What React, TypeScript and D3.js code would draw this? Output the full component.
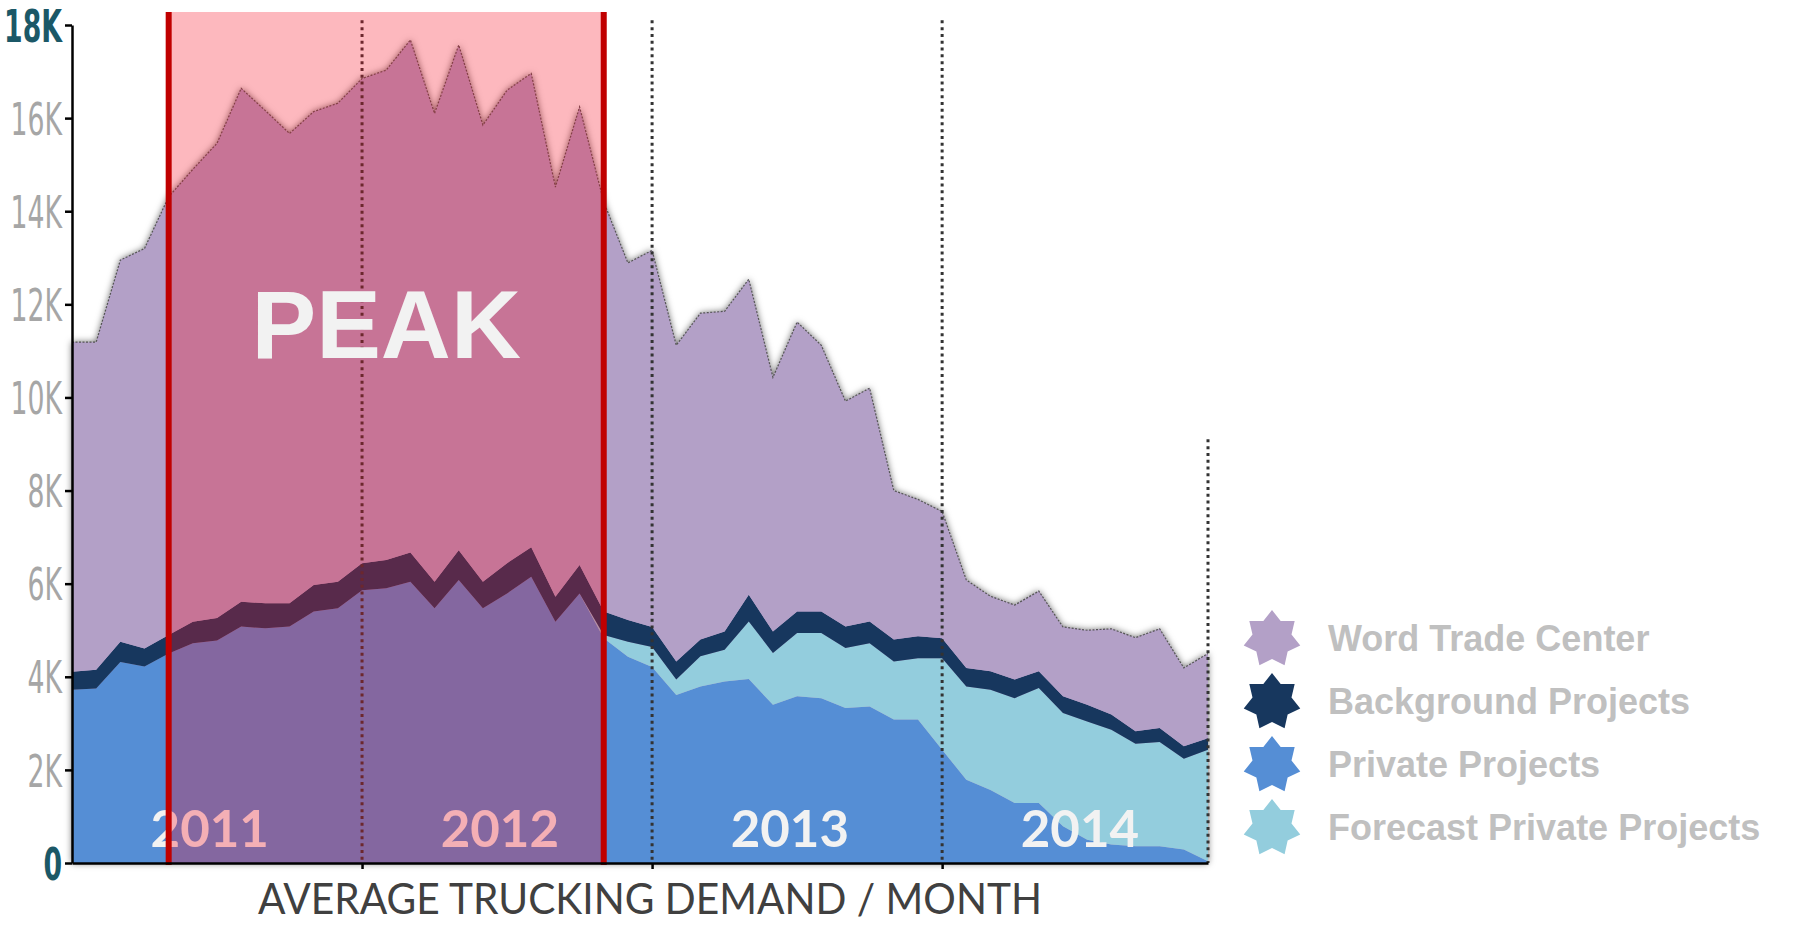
import React, { useEffect, useRef } from 'react';
import * as d3 from 'd3';

const years = ['2011', '2012', '2013', '2014'];
const monthNames = ['Jan', 'Feb', 'Mar', 'Apr', 'May', 'Jun', 'Jul', 'Aug', 'Sep', 'Oct', 'Nov', 'Dec'];
const months = years.flatMap((y) => monthNames.map((m) => `${m} ${y}`));

// trucks / month
const privateProjects = [
  3720, 3750, 4320, 4220, 4500, 4720, 4780, 5080, 5040, 5080, 5400, 5470,
  5860, 5900, 6040, 5470, 6080, 5470, 5790, 6150, 5180, 5790, 4830, 4430,
  4210, 3610, 3790, 3900, 3950, 3400, 3580, 3540, 3330, 3360, 3080, 3080,
  2430, 1790, 1570, 1290, 1290, 790, 500, 400, 360, 360, 290, 40,
];
const forecastPrivate = [
  0, 0, 0, 0, 0, 0, 0, 0, 0, 0, 0, 0,
  0, 0, 0, 0, 0, 0, 0, 0, 0, 0, 70, 320,
  430, 330, 650, 680, 1240, 1110, 1360, 1400, 1290, 1360, 1250, 1320,
  1970, 2000, 2150, 2250, 2470, 2430, 2540, 2460, 2200, 2240, 1950, 2390,
];
const backgroundProjects = [
  390, 400, 430, 390, 400, 460, 480, 530, 540, 500, 570, 570,
  580, 610, 630, 570, 640, 570, 650, 630, 540, 610, 500, 470,
  430, 390, 360, 390, 570, 460, 460, 460, 460, 470, 470, 470,
  430, 400, 400, 400, 360, 360, 360, 330, 270, 300, 270, 250,
];
const worldTradeCenter = [
  7080, 7040, 8200, 8590, 9410, 9720, 10200, 11030, 10580, 10090, 10170, 10280,
  10410, 10520, 11010, 10060, 10850, 9810, 10160, 10180, 8800, 9840, 8800, 7670,
  8090, 6790, 7010, 6880, 6780, 5460, 6220, 5720, 4840, 5010, 3200, 2940,
  2720, 1890, 1610, 1600, 1720, 1490, 1600, 1840, 2010, 2130, 1680, 1820,
];

const yTicks = [0, 2000, 4000, 6000, 8000, 10000, 12000, 14000, 16000, 18000];
const yearStarts = ['Jan 2012', 'Jan 2013', 'Jan 2014'];
const guideMonths = ['Jan 2012', 'Jan 2013', 'Jan 2014', 'Dec 2014'];
const guideTops = [18100, 18100, 18100, 9100];
const peakRange = ['May 2011', 'Nov 2012'];

const keys = ['private', 'forecast', 'background', 'wtc'];
const colors: Record<string, string> = {
  wtc: '#b3a0c7',
  background: '#17375e',
  private: '#558ed5',
  forecast: '#93cddd',
};
const legend = [
  { key: 'wtc', label: 'Word Trade Center' },
  { key: 'background', label: 'Background Projects' },
  { key: 'private', label: 'Private Projects' },
  { key: 'forecast', label: 'Forecast Private Projects' },
];

const App = () => {
  const svgRef = useRef<SVGSVGElement>(null);

  useEffect(() => {
    const svg = d3.select(svgRef.current);
    svg.selectAll('*').remove();

    const x = d3.scalePoint<string>().domain(months).range([72, 1208]);
    const y = d3.scaleLinear().domain([0, 18000]).range([863, 25]);

    const table = months.map((m, i) => ({
      month: m,
      private: privateProjects[i],
      forecast: forecastPrivate[i],
      background: backgroundProjects[i],
      wtc: worldTradeCenter[i],
    }));
    const series = d3.stack<any>().keys(keys)(table);

    const defs = svg.append('defs');
    const f = defs
      .append('filter')
      .attr('id', 'shadow')
      .attr('x', '-5%')
      .attr('y', '-10%')
      .attr('width', '110%')
      .attr('height', '120%');
    f.append('feDropShadow')
      .attr('dx', 0)
      .attr('dy', 0)
      .attr('stdDeviation', 3.5)
      .attr('flood-color', '#000')
      .attr('flood-opacity', 0.6);

    const area = d3
      .area<any>()
      .x((d) => x(d.data.month) as number)
      .y0((d) => y(d[0]))
      .y1((d) => y(d[1]));

    // shadowed silhouette first so the glow only shows outside the stack
    const top = series[series.length - 1];
    svg
      .append('path')
      .datum(top)
      .attr('d', d3.area<any>().x((d) => x(d.data.month) as number).y0(y(0)).y1((d) => y(d[1])))
      .attr('fill', colors.wtc)
      .attr('filter', 'url(#shadow)');

    svg
      .append('g')
      .selectAll('path')
      .data(series)
      .join('path')
      .attr('d', area)
      .attr('fill', (d) => colors[d.key]);

    svg
      .append('path')
      .datum(top)
      .attr('d', d3.line<any>().x((d) => x(d.data.month) as number).y((d) => y(d[1])))
      .attr('fill', 'none')
      .attr('stroke', '#555')
      .attr('stroke-width', 1.2)
      .attr('stroke-dasharray', '2 1.5');

    // year labels
    svg
      .append('g')
      .selectAll('text')
      .data(years)
      .join('text')
      .attr('x', (d, i) => x(months[i * 12])! + 5.7 * x.step())
      .attr('y', 847)
      .attr('text-anchor', 'middle')
      .attr('font-family', 'Lato, "Open Sans", sans-serif')
      .attr('font-weight', 700)
      .attr('font-size', 51)
      .attr('fill', '#f2f2f2')
      .text((d) => d);

    // dotted year guides
    svg
      .append('g')
      .selectAll('line')
      .data(guideMonths)
      .join('line')
      .attr('x1', (d) => x(d)!)
      .attr('x2', (d) => x(d)!)
      .attr('y1', (d, i) => y(guideTops[i]))
      .attr('y2', y(0))
      .attr('stroke', '#333')
      .attr('stroke-width', 3)
      .attr('stroke-dasharray', '3 3.8');

    // peak highlight
    const px0 = x(peakRange[0])!;
    const px1 = x(peakRange[1])!;
    svg
      .append('rect')
      .attr('x', px0)
      .attr('y', 12)
      .attr('width', px1 - px0)
      .attr('height', y(0) + 1 - 12)
      .attr('fill', 'rgba(248, 10, 31, 0.29)');
    svg
      .append('g')
      .selectAll('line')
      .data([px0, px1])
      .join('line')
      .attr('x1', (d) => d)
      .attr('x2', (d) => d)
      .attr('y1', 12)
      .attr('y2', y(0) + 2)
      .attr('stroke', '#c00000')
      .attr('stroke-width', 6);

    // axes
    const yAxis = d3
      .axisLeft(y)
      .tickValues(yTicks)
      .tickSize(7)
      .tickSizeOuter(0)
      .tickFormat((v) => (v === 0 ? '0' : `${+v / 1000}K`));
    const gy = svg.append('g').attr('transform', 'translate(72,0)').call(yAxis);
    gy.select('.domain').attr('stroke', '#000').attr('stroke-width', 2.5);
    gy.selectAll('.tick line').attr('stroke', '#000').attr('stroke-width', 2.5);
    gy.selectAll('.tick text')
      .attr('x', 0)
      .attr('dy', '0.36em')
      .attr('transform', 'translate(-10,0) scale(0.66,1)')
      .attr('font-family', '"Liberation Sans Narrow", "DejaVu Sans Condensed", sans-serif')
      .attr('font-size', 45)
      .attr('fill', (v: any) => (v === 0 || v === 18000 ? '#1b5867' : '#a6a6a6'))
      .attr('font-weight', (v: any) => (v === 0 || v === 18000 ? 700 : 400));

    const xAxis = d3
      .axisBottom(x)
      .tickValues(yearStarts)
      .tickSize(6)
      .tickSizeOuter(0)
      .tickFormat(() => '');
    const gx = svg.append('g').attr('transform', `translate(0,${y(0)})`).call(xAxis);
    gx.select('.domain').attr('stroke', '#000').attr('stroke-width', 2.5);
    gx.selectAll('.tick line').attr('stroke', '#000').attr('stroke-width', 2.5);

    svg
      .append('text')
      .attr('x', (px0 + px1) / 2)
      .attr('y', 358)
      .attr('text-anchor', 'middle')
      .attr('font-family', '"Liberation Sans", Arial, sans-serif')
      .attr('font-weight', 700)
      .attr('font-size', 97)
      .attr('fill', '#f2f2f2')
      .text('PEAK');

    svg
      .append('text')
      .attr('x', 650)
      .attr('y', 914)
      .attr('text-anchor', 'middle')
      .attr('font-family', 'Lato, "Open Sans", sans-serif')
      .attr('font-size', 43)
      .attr('fill', '#404040')
      .attr('textLength', 784)
      .attr('lengthAdjust', 'spacingAndGlyphs')
      .text('AVERAGE TRUCKING DEMAND / MONTH');

    // legend with 7-point stars
    const starPts = d3.range(14).map((i) => [(i * Math.PI) / 7, i % 2 === 0 ? 29 : 20]);
    const star = d3.lineRadial().curve(d3.curveLinearClosed)(starPts as [number, number][]);
    const lg = svg
      .append('g')
      .selectAll('g')
      .data(legend)
      .join('g')
      .attr('transform', (d, i) => `translate(1272,${639 + i * 63})`);
    lg.append('path').attr('d', star).attr('fill', (d) => colors[d.key]);
    lg.append('text')
      .attr('x', 56)
      .attr('y', 12)
      .attr('font-family', '"Liberation Sans", Arial, sans-serif')
      .attr('font-weight', 700)
      .attr('font-size', 36)
      .attr('fill', '#c0c0c0')
      .text((d) => d.label);
  }, []);

  return (
    <svg
      ref={svgRef}
      width={1795}
      height={925}
      style={{ position: 'absolute', left: 0, top: 0, display: 'block', background: '#fff' }}
    />
  );
};

export default App;
